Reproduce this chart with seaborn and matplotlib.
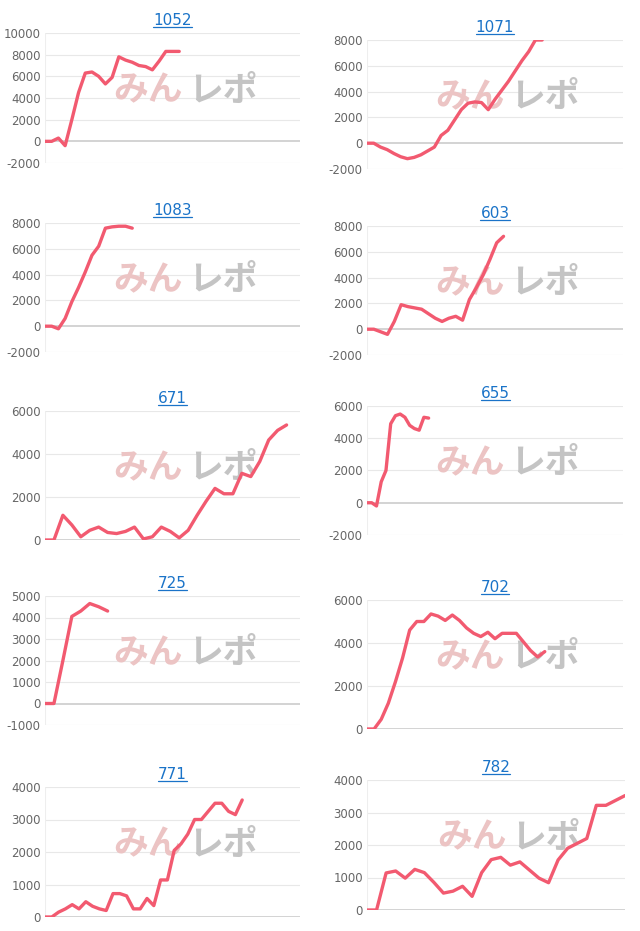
import matplotlib
matplotlib.use("Agg")
import matplotlib.pyplot as plt
import seaborn as sns
import pandas as pd

titles = ["1052", "1071", "1083", "603", "671", "655", "725", "702", "771", "782"]

v1052 = [0, 0, 300, -400, 2000, 4500, 6300, 6400, 6000, 5300, 5900, 7800, 7500, 7300, 7000, 6900, 6600, 7400, 8300, 8300, 8300]
v1071 = [0, 0, -300, -500, -800, -1050, -1200, -1100, -900, -600, -300, 600, 1000, 1800, 2600, 3100, 3200, 3150, 2600,
         3400, 4100, 4800, 5600, 6400, 7100, 8000, 8000]
v1083 = [0, 0, -200, 600, 1900, 3000, 4200, 5500, 6200, 7600, 7700, 7750, 7750, 7600]
v603 = [0, 0, -200, -400, 600, 1900, 1750, 1650, 1550, 1200, 850, 600, 850, 1000, 700, 2300, 3200, 4200, 5400, 6700, 7200]
v671 = [0, 0, 1150, 700, 150, 450, 600, 350, 300, 400, 600, 50, 150, 600, 400, 100, 450, 1150, 1800, 2400, 2150, 2150,
        3100, 2950, 3650, 4650, 5100, 5350]
v655 = [0, 0, -200, 1300, 2000, 4900, 5400, 5500, 5300, 4800, 4600, 4500, 5300, 5250]
v725 = [0, 0, 2000, 4050, 4300, 4650, 4500, 4300]
v702 = [0, 0, 450, 1200, 2200, 3300, 4600, 5000, 5000, 5350, 5250, 5050, 5300, 5050, 4700, 4450, 4300, 4500, 4200,
        4450, 4450, 4450, 4050, 3650, 3350, 3600]
v771 = [0, 0, 150, 250, 380, 250, 470, 330, 250, 200, 720, 720, 650, 250, 250, 570, 350, 1140, 1140, 2050, 2250, 2550,
        3000, 3000, 3250, 3500, 3500, 3250, 3150, 3600]
v782 = [0, 0, 1140, 1200, 980, 1250, 1150, 850, 520, 580, 730, 420, 1150, 1550, 1620, 1380, 1480, 1230, 980, 840, 1540,
        1900, 2050, 2200, 3220, 3220, 3370, 3520]

series = [v1052, v1071, v1083, v603, v671, v655, v725, v702, v771, v782]
x_span = [38, 38, 38, 37.5, 28.5, 54, 28.5, 36, 37.5, 27]
y_ticks = [
    [-2000, 0, 2000, 4000, 6000, 8000, 10000],
    [-2000, 0, 2000, 4000, 6000, 8000],
    [-2000, 0, 2000, 4000, 6000, 8000],
    [-2000, 0, 2000, 4000, 6000, 8000],
    [0, 2000, 4000, 6000],
    [-2000, 0, 2000, 4000, 6000],
    [-1000, 0, 1000, 2000, 3000, 4000, 5000],
    [0, 2000, 4000, 6000],
    [0, 1000, 2000, 3000, 4000],
    [0, 1000, 2000, 3000, 4000],
]

# axes rectangles in pixels: left, top, right, bottom
boxes = [
    (45, 33, 300, 163), (367, 40, 623, 169),
    (45, 223, 300, 352), (367, 226, 623, 355),
    (45, 411, 300, 540), (367, 406, 623, 535),
    (45, 596, 300, 725), (367, 600, 623, 729),
    (45, 787, 300, 917), (367, 780, 625, 910),
]

sns.set_theme(style="white")
plt.rcParams['font.family'] = ['DejaVu Sans', 'Noto Sans CJK JP']

W, H = 640, 931
fig = plt.figure(figsize=(W / 100, H / 100), dpi=100)
fig.patch.set_facecolor("white")

for i, vals in enumerate(series):
    l, t, r, b = boxes[i]
    ax = fig.add_axes([l / W, 1 - b / H, (r - l) / W, (b - t) / H])
    df = pd.DataFrame({"x": range(len(vals)), "y": vals})
    ticks = y_ticks[i]
    for tk in ticks:
        ax.axhline(tk, color="#cccccc" if tk == 0 else "#e8e8e8", lw=1.2 if tk == 0 else 0.8, zorder=0)
    ax.axvline(0, color="#eeeeee", lw=0.8, zorder=0)
    # watermark
    ax.text(0.54, 0.56, "みん", transform=ax.transAxes, ha="right", va="center",
            fontsize=25, fontweight="bold", color="#ecc4c4", family="Noto Sans CJK JP", zorder=1)
    ax.text(0.56, 0.56, "レポ", transform=ax.transAxes, ha="left", va="center",
            fontsize=25, fontweight="bold", color="#c4c4c4", family="Noto Sans CJK JP", zorder=1)
    sns.lineplot(data=df, x="x", y="y", ax=ax, color="#f25a70", lw=2.4, zorder=3)
    ax.set_xlim(0, x_span[i])
    ax.set_ylim(ticks[0], ticks[-1])
    ax.set_yticks(ticks)
    ax.set_yticklabels([str(tk) for tk in ticks], fontsize=8.5, color="#666666")
    ax.tick_params(axis="y", length=0, pad=3)
    ax.set_xticks([])
    ax.set_xlabel("")
    ax.set_ylabel("")
    for s in ax.spines.values():
        s.set_visible(False)
    tt = ax.set_title(titles[i], fontsize=11, color="#1a73c8", pad=6)
    fig.canvas.draw()
    # underline for the link-style title
    bb = tt.get_window_extent().transformed(fig.transFigure.inverted())
    fig.add_artist(plt.Line2D([bb.x0, bb.x1], [bb.y0 + 0.001, bb.y0 + 0.001], color="#1a73c8", lw=0.9,
                              transform=fig.transFigure))

fig.savefig("out.png", dpi=100, facecolor="white")
